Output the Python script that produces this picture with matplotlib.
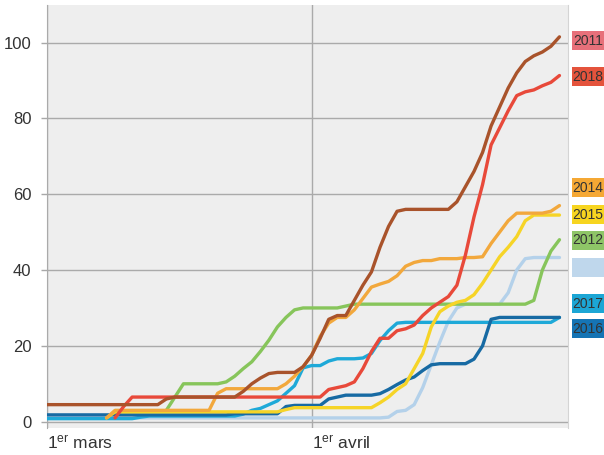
import numpy as np
import matplotlib
matplotlib.use("Agg")
import matplotlib.pyplot as plt
from matplotlib.patches import Rectangle
from matplotlib.transforms import blended_transform_factory, ScaledTranslation

nan = np.nan
days = np.arange(61)  # 0 = 1er mars, 31 = 1er avril, 60 = 30 avril

s2011 = ([4.5] * 14 + [6.0] + [6.5] * 8 +
         [8, 10, 11.5, 12.7, 13, 13, 13, 14.5, 17.5, 22, 27, 28, 28, 32, 36, 39.5, 46, 51.5, 55.5] +
         [56] * 6 +
         [58, 62, 66, 71, 78, 83, 88, 92, 95, 96.5, 97.5, 99, 101.5])
s2018 = ([nan] * 8 + [1, 4, 6.5] + [6.5] * 22 +
         [8.5, 9, 9.5, 10.5, 14, 18.5, 22, 22, 24, 24.5, 25.5, 28, 30, 31.5, 33, 36,
          44, 54, 62.5, 73, 77.5, 82, 86, 87, 87.5, 88.6, 89.5, 91.3])
s2014 = ([nan] * 7 + [1, 3] + [3] * 11 + [7.5] + [8.7] * 7 +
         [10, 12, 14.5, 17.5, 22.5, 26, 27.5, 27.5, 29.5, 32.5, 35.5, 36.3, 37, 38.5, 41, 42,
          42.5, 42.5, 43, 43, 43, 43.3, 43.3, 43.5, 47, 50, 53, 55, 55, 55, 55, 55.5, 57])
s2015 = ([nan] * 7 + [1] + [2.6] * 20 + [3.2, 3.7] + [3.7] * 9 +
         [5, 6.5, 8.5, 10, 14, 18, 25, 29, 30.5, 31.5, 32, 33.5, 36.5, 40, 43.5, 46, 48.8,
          53, 54.5, 54.5, 54.5, 54.5])
s2012 = ([nan] * 14 + [3, 6.5, 10] + [10] * 4 +
         [10.5, 12, 14, 15.8, 18.5, 21.5, 25, 27.5, 29.5] + [30] * 5 + [30.5] + [31] * 21 +
         [32, 40, 45, 48])
s2013 = ([1.0] * 40 + [1.2] +
         [2.7, 3, 4.5, 9, 15, 21, 26.5, 30] + [31] * 5 + [34, 40, 43] + [43.3] * 4)
s2017 = ([0.8] * 11 + [1.2] + [1.5] * 11 +
         [2, 3, 3.5, 4.5, 5.5, 7.5, 9.5, 14.2, 14.8, 14.8, 16, 16.6, 16.6, 16.6, 16.8, 18,
          21.4, 24, 26] + [26.2] * 18 + [27.5])
s2016 = ([1.8] * 22 + [2.1] * 6 + [4, 4.3] + [4.3] * 3 + [6, 6.5] + [7] * 4 +
         [7.4, 8.5, 9.8, 11, 11.8, 13.5, 15] + [15.3] * 4 + [16.5, 20, 27] + [27.5] * 8)

series = [
    ("2013", s2013, "#b4d1ea"),
    ("2017", s2017, "#1ea9d8"),
    ("2016", s2016, "#176aa3"),
    ("2012", s2012, "#87c55b"),
    ("2015", s2015, "#f6d427"),
    ("2014", s2014, "#f2a83c"),
    ("2018", s2018, "#e8493a"),
    ("2011", s2011, "#a9532b"),
]

box_labels = ["2011", "2018", "2014", "2015", "2012", "", "2017", "2016"]
box_y = [100.5, 91.0, 61.7, 54.6, 47.8, 40.6, 31.1, 24.5]
box_colors = ["#e7707a", "#e4533c", "#f5a834", "#f7d520", "#8ec567", "#bfd7ec", "#1ca6d5", "#1574b4"]

yticks = [0, 20, 40, 60, 80, 100]
xticks = [0, 31]
xticklabels = ["1$^{er}$ mars", "1$^{er}$ avril"]

plt.rcParams["mathtext.default"] = "regular"
plt.rcParams["font.family"] = ["Liberation Sans", "DejaVu Sans"]

fig = plt.figure(figsize=(6.04, 4.55), dpi=100)
ax = fig.add_axes([46.7 / 604, 27 / 455, (568 - 46.7) / 604, 423 / 455])
ax.set_facecolor("#eeeeee")

for name, vals, col in series:
    ax.plot(days, vals, color=col, lw=2.4, solid_joinstyle="round",
            solid_capstyle="round", zorder=3)

ax.set_xlim(0, 61)
ax.set_ylim(-1.66, 109.9)
ax.set_yticks(yticks)
ax.set_xticks(xticks)
ax.set_xticklabels(xticklabels, fontsize=12.5, color="#333333", ha="left")
for lab in ax.get_xticklabels():
    lab.set_transform(lab.get_transform() + ScaledTranslation(-4 / 100, 0, fig.dpi_scale_trans))
ax.tick_params(axis="y", labelsize=12, colors="#333333", length=4, width=1, pad=7,
               color="#a8a8a8")
ax.tick_params(axis="x", length=0, pad=5)
ax.grid(True, color="#aaaaaa", lw=1)
ax.set_axisbelow(True)
for sp in ["top", "bottom"]:
    ax.spines[sp].set_visible(False)
ax.spines["left"].set_color("#aaaaaa")
ax.spines["right"].set_color("#d4d4d4")

tr = blended_transform_factory(fig.transFigure, ax.transData)
bh = 5.0
for lab, yv, col in zip(box_labels, box_y, box_colors):
    fig.add_artist(Rectangle((572 / 604, yv - bh / 2), 32 / 604, bh, transform=tr,
                             facecolor=col, edgecolor="none", clip_on=False))
    if lab:
        fig.text(588 / 604, yv, lab, transform=tr, ha="center", va="center",
                 fontsize=10, color="#333333", family=["Liberation Sans"])

fig.savefig("out.png", dpi=100, facecolor="white")
